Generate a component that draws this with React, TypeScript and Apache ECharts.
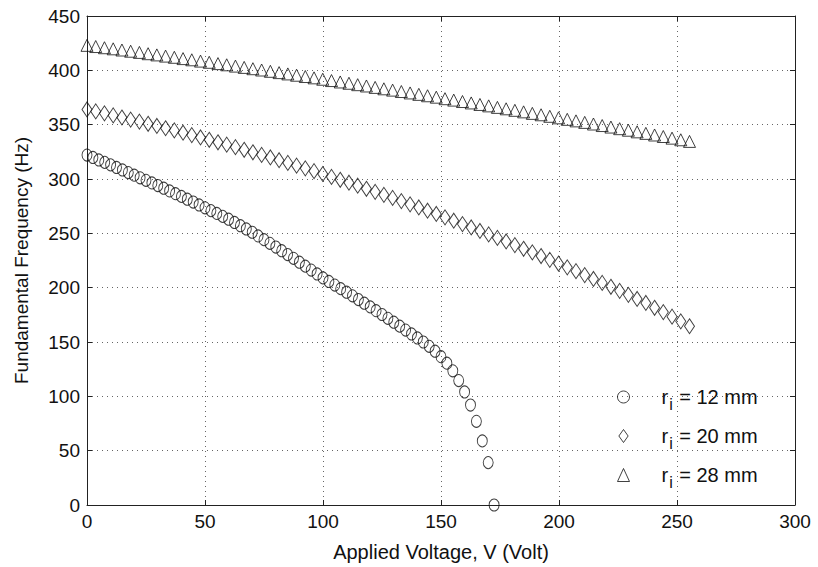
import React, { useEffect, useRef } from "react";
import * as echarts from "echarts";

// ---- data ----
const voltage12 = [
  0, 2.5, 5, 7.5, 10, 12.5, 15, 17.5, 20, 22.5, 25, 27.5, 30, 32.5, 35, 37.5, 40, 42.5, 45, 47.5,
  50, 52.5, 55, 57.5, 60, 62.5, 65, 67.5, 70, 72.5, 75, 77.5, 80, 82.5, 85, 87.5, 90, 92.5, 95, 97.5,
  100, 102.5, 105, 107.5, 110, 112.5, 115, 117.5, 120, 122.5, 125, 127.5, 130, 132.5, 135, 137.5,
  140, 142.5, 145, 147.5, 150, 152.5, 155, 157.5, 160, 162.5, 165, 167.5, 170, 172.5,
];
const freq12 = [
  322.0, 319.8, 317.5, 315.3, 313.0, 310.6, 308.3, 305.9, 303.5, 301.1, 298.8, 296.4, 294.0, 291.5,
  289.0, 286.5, 284.0, 281.4, 278.8, 276.1, 273.5, 270.9, 268.3, 265.6, 263.0, 260.0, 257.0, 254.0,
  251.0, 247.6, 244.2, 240.8, 237.4, 234.0, 230.5, 227.0, 223.4, 219.8, 216.2, 212.6, 209.0, 205.7,
  202.4, 199.1, 195.8, 192.5, 189.1, 185.7, 182.3, 178.8, 175.3, 171.8, 168.2, 164.6, 161.0, 157.4,
  153.7, 150.0, 146.0, 141.5, 136.5, 130.5, 123.5, 114.5, 104.0, 92.0, 77.0, 59.0, 39.0, 0,
];

const voltage20 = [
  0, 3.7, 7.4, 11.1, 14.8, 18.5, 22.2, 25.9, 29.6, 33.3, 37.0, 40.7, 44.4, 48.1, 51.8, 55.5, 59.2,
  62.9, 66.6, 70.3, 74.0, 77.7, 81.4, 85.1, 88.8, 92.5, 96.2, 99.9, 103.6, 107.3, 111.0, 114.7,
  118.4, 122.1, 125.8, 129.5, 133.2, 136.9, 140.6, 144.3, 148.0, 151.7, 155.4, 159.1, 162.8, 166.5,
  170.2, 173.9, 177.6, 181.3, 185.0, 188.7, 192.4, 196.1, 199.8, 203.5, 207.2, 210.9, 214.6, 218.3,
  222.0, 225.7, 229.4, 233.1, 236.8, 240.5, 244.2, 247.9, 251.6, 255.3,
];
const freq20 = [
  364.0, 362.2, 360.4, 358.5, 356.6, 354.7, 352.8, 350.8, 348.8, 346.7, 344.7, 342.6, 340.4, 338.2,
  336.1, 333.8, 331.6, 329.3, 326.9, 324.6, 322.2, 319.8, 317.3, 314.8, 312.3, 309.8, 307.2, 304.6,
  301.9, 299.3, 296.6, 293.8, 291.0, 288.2, 285.4, 282.6, 279.7, 276.7, 273.8, 270.8, 267.8, 264.7,
  261.6, 258.5, 255.4, 252.2, 249.0, 245.8, 242.5, 239.2, 235.8, 232.5, 229.1, 225.6, 222.2, 218.7,
  215.2, 211.6, 208.0, 204.4, 200.8, 197.1, 193.4, 189.6, 185.9, 181.5, 177.5, 173.3, 169.0, 164.5,
];

const voltage28 = [
  0, 3.7, 7.4, 11.1, 14.8, 18.5, 22.2, 25.9, 29.6, 33.3, 37.0, 40.7, 44.4, 48.1, 51.8, 55.5, 59.2,
  62.9, 66.6, 70.3, 74.0, 77.7, 81.4, 85.1, 88.8, 92.5, 96.2, 99.9, 103.6, 107.3, 111.0, 114.7,
  118.4, 122.1, 125.8, 129.5, 133.2, 136.9, 140.6, 144.3, 148.0, 151.7, 155.4, 159.1, 162.8, 166.5,
  170.2, 173.9, 177.6, 181.3, 185.0, 188.7, 192.4, 196.1, 199.8, 203.5, 207.2, 210.9, 214.6, 218.3,
  222.0, 225.7, 229.4, 233.1, 236.8, 240.5, 244.2, 247.9, 251.6, 255.3,
];
const freq28 = [
  423.0, 421.9, 420.8, 419.8, 418.7, 417.6, 416.5, 415.3, 414.2, 413.1, 412.0, 410.8, 409.7, 408.5,
  407.4, 406.2, 405.1, 403.9, 402.7, 401.5, 400.3, 399.1, 397.9, 396.7, 395.5, 394.3, 393.1, 391.8,
  390.6, 389.3, 388.1, 386.8, 385.6, 384.3, 383.0, 381.8, 380.5, 379.2, 377.9, 376.6, 375.3, 373.9,
  372.6, 371.3, 370.0, 368.6, 367.3, 365.9, 364.6, 363.2, 361.8, 360.4, 359.1, 357.7, 356.3, 354.9,
  353.5, 352.1, 350.6, 349.2, 347.8, 346.3, 344.9, 343.4, 342.0, 340.5, 339.1, 337.6, 336.1, 334.6,
];

const seriesNames = ["12 mm", "20 mm", "28 mm"];
const xTicks = { min: 0, max: 300, interval: 50 };
const yTicks = { min: 0, max: 450, interval: 50 };

const FONT = "'Liberation Sans', Arial, Helvetica, sans-serif";
const DIAMOND = "path://M5,0 L10,7 L5,14 L0,7 Z";

function pairs(xs: number[], ys: number[]) {
  return xs.map((x, i) => [x, ys[i]]);
}

export default function App() {
  const ref = useRef<HTMLDivElement>(null);
  useEffect(() => {
    if (!ref.current) return;
    const chart = echarts.init(ref.current, undefined, { renderer: "svg" });
    const axisLine = { show: true, onZero: false, lineStyle: { color: "#222", width: 1 } };
    const tick = { show: true, inside: true, length: 5, lineStyle: { color: "#222" } };
    const grid = { show: true, lineStyle: { color: "#666", type: [1, 4] as any, width: 1 } };
    const hollowStyle = { color: "rgba(0,0,0,0)", borderColor: "#111", borderWidth: 1 };
    const hollow = (symbol: string, size: number[]) => ({
      type: "scatter",
      symbol,
      symbolSize: size,
      itemStyle: hollowStyle,
    });
    chart.setOption({
      animation: false,
      backgroundColor: "#fff",
      textStyle: { fontFamily: FONT },
      grid: { left: 87, right: 23, top: 16, bottom: 62, containLabel: false },
      xAxis: [
        {
          type: "value",
          ...xTicks,
          position: "bottom",
          name: "Applied Voltage, V (Volt)",
          nameLocation: "middle",
          nameGap: 37,
          nameTextStyle: { fontSize: 20, color: "#111", fontFamily: FONT },
          axisLine,
          axisTick: tick,
          axisLabel: { fontSize: 19, color: "#111", margin: 7, fontFamily: FONT },
          splitLine: grid,
        },
        {
          type: "value",
          ...xTicks,
          position: "top",
          axisLine,
          axisTick: tick,
          axisLabel: { show: false },
          splitLine: { show: false },
        },
      ],
      yAxis: [
        {
          type: "value",
          ...yTicks,
          position: "left",
          name: "Fundamental Frequency (Hz)",
          nameLocation: "middle",
          nameGap: 56,
          nameTextStyle: { fontSize: 19, color: "#111", fontFamily: FONT },
          axisLine,
          axisTick: tick,
          axisLabel: { fontSize: 19, color: "#111", margin: 7, fontFamily: FONT },
          splitLine: grid,
        },
        {
          type: "value",
          ...yTicks,
          position: "right",
          axisLine,
          axisTick: tick,
          axisLabel: { show: false },
          splitLine: { show: false },
        },
      ],
      legend: {
        orient: "vertical",
        left: 612,
        top: 382,
        itemWidth: 12,
        itemHeight: 13,
        itemGap: 14,
        itemStyle: hollowStyle,
        data: [
          { name: seriesNames[0], icon: "circle" },
          { name: seriesNames[1], icon: DIAMOND },
          { name: seriesNames[2], icon: "triangle" },
        ],
        formatter: (name: string) => `r{sub|i} = ${name}`,
        textStyle: {
          fontSize: 20,
          color: "#111",
          fontFamily: FONT,
          padding: [0, 0, 0, 27],
          rich: {
            sub: { fontSize: 16, verticalAlign: "top", padding: [14, 1, 0, 1], fontFamily: FONT, color: "#111" },
          },
        },
      },
      series: [
        { ...hollow("circle", [10, 12]), name: seriesNames[0], data: pairs(voltage12, freq12) },
        { ...hollow(DIAMOND, [10, 15]), name: seriesNames[1], data: pairs(voltage20, freq20) },
        { ...hollow("triangle", [12, 12]), name: seriesNames[2], data: pairs(voltage28, freq28) },
      ],
    });
    return () => chart.dispose();
  }, []);
  return <div ref={ref} style={{ position: "absolute", left: 0, top: 0, width: 818, height: 567 }} />;
}
